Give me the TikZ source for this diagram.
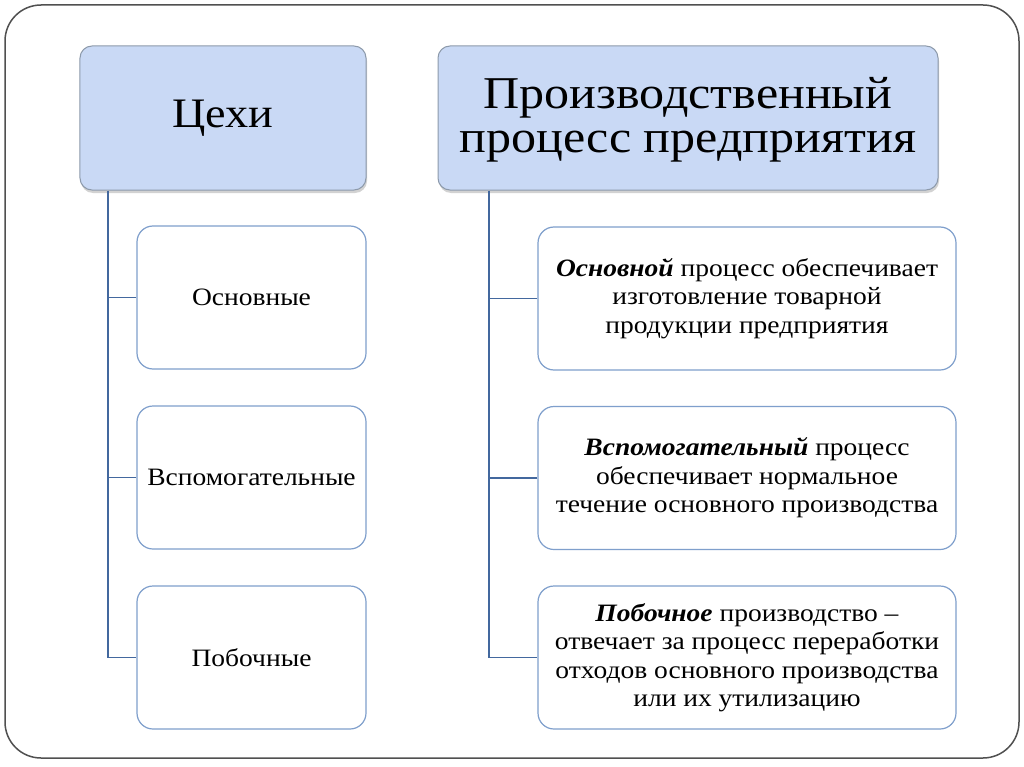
\documentclass[tikz,border=0pt]{standalone}
\usepackage{fontspec}
\setmainfont[FakeStretch=1.1]{Liberation Serif}
\usetikzlibrary{shadows,calc}
\definecolor{hdrfill}{HTML}{C9D9F5}
\definecolor{hdrdraw}{HTML}{8D9AAB}
\definecolor{boxdraw}{HTML}{7F9FCC}
\definecolor{linecol}{HTML}{43689E}
\definecolor{framecol}{HTML}{505050}
\tikzset{
  hdr/.style={draw=hdrdraw, line width=1bp, fill=hdrfill, rounded corners=12bp,
    drop shadow={opacity=0.35, shadow xshift=1bp, shadow yshift=-3bp},
    align=center, inner sep=0pt},
  child/.style={draw=boxdraw, line width=1.2bp, fill=white, rounded corners=16bp,
    align=center, inner sep=0pt},
  conn/.style={draw=linecol, line width=1.8bp},
  hfont/.style={font=\fontsize{42bp}{46bp}\selectfont},
  h2font/.style={font=\fontsize{45.5bp}{40bp}\selectfont, inner sep=0pt},
  cfont/.style={font=\fontsize{25bp}{28bp}\selectfont},
  rfont/.style={font=\fontsize{25bp}{28.5bp}\selectfont},
}
\begin{document}
\begin{tikzpicture}[x=1bp,y=-1bp]
\useasboundingbox (0,0) rectangle (1024,767);
\fill[white] (0,0) rectangle (1024,767);
\draw[framecol, line width=1.5bp, rounded corners=36bp] (5,5) rectangle (1019,758);

% headers
\node[hdr, hfont, minimum width=286bp, minimum height=144bp] (h1) at (223,118) {Цехи};
\node[hdr, minimum width=500bp, minimum height=144bp] (h2) at (688,118) {};
\node[h2font, anchor=base] (h2a) at ($(h2.center)+(0,-10)$) {Производственный};
\node[h2font, anchor=base] (h2b) at ($(h2.center)+(0,34)$) {процесс предприятия};

% left children
\node[child, cfont, minimum width=229bp, minimum height=143bp] (l1) at (251.5,297.5) {Основные};
\node[child, cfont, minimum width=229bp, minimum height=143bp] (l2) at (251.5,477.5) {Вспомогательные};
\node[child, cfont, minimum width=229bp, minimum height=143bp] (l3) at (251.5,657.5) {Побочные};

% right children
\node[child, rfont, minimum width=418bp, minimum height=143bp] (r1) at (747,298.5)
  {\textbf{\textit{Основной}} процесс обеспечивает\\изготовление товарной\\продукции предприятия};
\node[child, rfont, minimum width=418bp, minimum height=143bp] (r2) at (747,478)
  {\textbf{\textit{Вспомогательный}} процесс\\обеспечивает нормальное\\течение основного производства};
\node[child, rfont, minimum width=418bp, minimum height=143bp] (r3) at (747,657.5)
  {\textbf{\textit{Побочное}} производство –\\отвечает за процесс переработки\\отходов основного производства\\или их утилизацию};

% connectors
\coordinate (v1) at ($(h1.south west)+(28.5,0)$);
\coordinate (v2) at ($(h2.south west)+(51.5,0)$);
\draw[conn] (v1) |- (l3.west);
\draw[conn] (l1.west) -- (l1.west -| v1);
\draw[conn] (l2.west) -- (l2.west -| v1);
\draw[conn] (v2) |- (r3.west);
\draw[conn] (r1.west) -- (r1.west -| v2);
\draw[conn] (r2.west) -- (r2.west -| v2);
\end{tikzpicture}
\end{document}
